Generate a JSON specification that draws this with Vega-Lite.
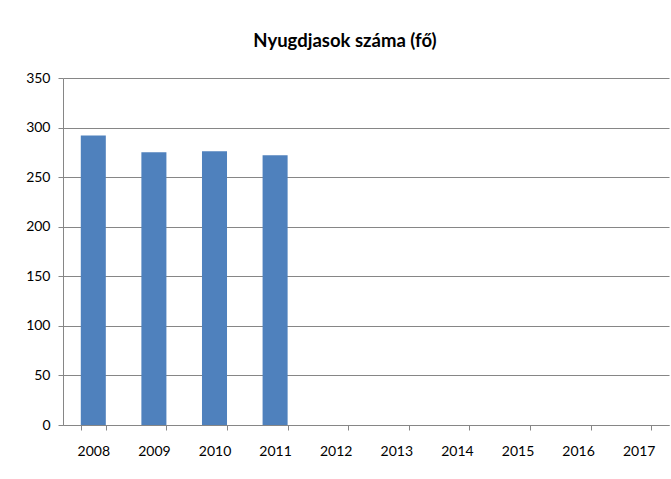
{
  "$schema": "https://vega.github.io/schema/vega-lite/v6.json",
  "autosize": "none",
  "width": 606,
  "height": 347,
  "padding": {"left": 63, "top": 78, "right": 2, "bottom": 54},
  "background": "white",
  "title": {
    "text": "Nyugdjasok száma (fő)",
    "font": "Lato",
    "fontSize": 18.5,
    "fontWeight": "bold",
    "color": "#000000",
    "anchor": "middle",
    "dx": -21,
    "offset": 21
  },
  "data": {
    "values": [
      {"year": "2008", "value": 292},
      {"year": "2009", "value": 275},
      {"year": "2010", "value": 276},
      {"year": "2011", "value": 272},
      {"year": "2012", "value": null},
      {"year": "2013", "value": null},
      {"year": "2014", "value": null},
      {"year": "2015", "value": null},
      {"year": "2016", "value": null},
      {"year": "2017", "value": null}
    ]
  },
  "mark": {"type": "bar", "color": "#4F81BD"},
  "encoding": {
    "x": {
      "field": "year",
      "type": "ordinal",
      "scale": {
        "domain": ["2008", "2009", "2010", "2011", "2012", "2013", "2014", "2015", "2016", "2017"],
        "paddingInner": 0.587,
        "paddingOuter": 0.2935
      },
      "axis": {
        "title": null,
        "labelAngle": 0,
        "tickBand": "extent",
        "tickSize": 5,
        "labelPadding": 14,
        "domainColor": "#868686",
        "tickColor": "#868686",
        "labelFont": "Lato",
        "labelFontSize": 14,
        "labelColor": "#000000",
        "grid": false
      }
    },
    "y": {
      "field": "value",
      "type": "quantitative",
      "scale": {"domain": [0, 350], "nice": false},
      "axis": {
        "title": null,
        "values": [0, 50, 100, 150, 200, 250, 300, 350],
        "tickSize": 5,
        "labelPadding": 8,
        "domainColor": "#868686",
        "tickColor": "#868686",
        "gridColor": "#868686",
        "gridOpacity": 1,
        "labelFont": "Lato",
        "labelFontSize": 14,
        "labelColor": "#000000"
      }
    }
  },
  "config": {"view": {"stroke": null}}
}
